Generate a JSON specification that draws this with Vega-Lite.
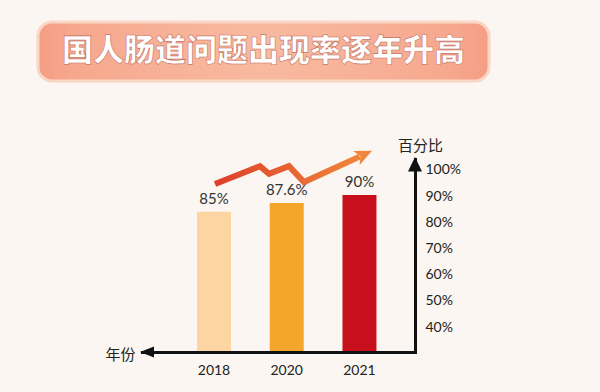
{
  "$schema": "https://vega.github.io/schema/vega-lite/v6.json",
  "background": "#FBF6F1",
  "padding": {"left": 36, "top": 20, "right": 115, "bottom": 17},
  "bounds": "flush",
  "spacing": 78,
  "config": {"view": {"stroke": null}, "font": "Lato"},
  "vconcat": [
    {
      "width": 451,
      "height": 59,
      "data": {"values": [{"title": "国人肠道问题出现率逐年升高"}]},
      "layer": [
        {
          "mark": {
            "type": "rect",
            "cornerRadius": 14,
            "stroke": "#FAD6C4",
            "strokeWidth": 3,
            "fill": {
              "gradient": "radial",
              "x1": 0.5, "y1": 0.5, "r1": 0,
              "x2": 0.5, "y2": 0.5, "r2": 0.6,
              "stops": [
                {"offset": 0, "color": "#F8BBA0"},
                {"offset": 0.7, "color": "#F6A88E"},
                {"offset": 1, "color": "#F2907A"}
              ]
            }
          },
          "encoding": {}
        },
        {
          "mark": {"type": "text", "font": "Noto Sans CJK SC", "fontSize": 31, "fontWeight": 900, "fill": "#FFFFFF", "stroke": "#C8705C", "strokeWidth": 0.6, "align": "center", "baseline": "middle"},
          "encoding": {"text": {"field": "title"}}
        }
      ]
    },
    {
      "width": 377,
      "height": 193,
      "resolve": {"scale": {"x": "independent", "y": "independent"}, "axis": {"x": "independent", "y": "independent"}},
      "layer": [
        {
          "data": {"values": [
            {"year": "2018", "value": 85},
            {"year": "2020", "value": 87.6},
            {"year": "2021", "value": 90}
          ]},
          "transform": [{"calculate": "datum.value + '%'", "as": "label"}],
          "encoding": {
            "x": {
              "field": "year", "type": "ordinal",
              "scale": {"range": [104, 377], "paddingInner": 0.533, "paddingOuter": 0.643, "align": 0.588},
              "axis": {
                "title": "年份", "titleX": 97, "titleY": 2, "titleAlign": "right", "titleBaseline": "middle",
                "titleFont": "Noto Sans CJK SC", "titleFontSize": 15, "titleFontWeight": "normal", "titleColor": "#222",
                "labelFont": "Lato", "labelFontSize": 14, "labelColor": "#222", "labelPadding": 11, "labelAngle": 0,
                "ticks": false, "tickSize": 0, "grid": false,
                "domainColor": "#111", "domainWidth": 3, "domainCap": "square", "zindex": 1
              }
            },
            "y": {"field": "value", "type": "quantitative", "scale": {"domain": [43.6, 100.6], "zero": false, "nice": false}, "axis": null}
          },
          "layer": [
            {
              "mark": {"type": "bar"},
              "encoding": {
                "y2": {"datum": 43.6},
                "color": {"field": "year", "type": "ordinal", "scale": {"domain": ["2018", "2020", "2021"], "range": ["#FDD5A2", "#F4A62A", "#C8101C"]}, "legend": null}
              }
            },
            {
              "mark": {"type": "text", "dy": -8, "baseline": "alphabetic", "fontSize": 15, "fill": "#333", "font": "Lato"},
              "encoding": {"text": {"field": "label"}}
            }
          ]
        },
        {
          "encoding": {
            "x": {"field": "p", "type": "quantitative", "scale": {"domain": [-2.4276, 2.7724], "zero": false, "nice": false}, "axis": null},
            "y": {"field": "v", "type": "quantitative", "scale": {"domain": [43.6, 100.6], "zero": false, "nice": false}, "axis": null}
          },
          "layer": [
            {
              "data": {"values": [
                {"p": 0.014, "v": 93.2},
                {"p": 0.634, "v": 98.5},
                {"p": 0.759, "v": 96.2},
                {"p": 1.034, "v": 98.5},
                {"p": 1.241, "v": 93.8},
                {"p": 2.008, "v": 101.3}
              ]},
              "mark": {
                "type": "line", "strokeWidth": 6, "strokeJoin": "miter", "strokeCap": "butt",
                "stroke": {"gradient": "linear", "x1": 0, "y1": 0, "x2": 1, "y2": 0,
                  "stops": [{"offset": 0, "color": "#DE3F2B"}, {"offset": 1, "color": "#F0863B"}]}
              }
            },
            {
              "data": {"values": [{"p": 2.179, "v": 103.0}]},
              "mark": {"type": "point", "shape": "M0,0L-2,-0.9L-1.5,0L-2,0.9Z", "angle": -24.5, "size": 289, "filled": true, "fill": "#F0863B", "opacity": 1, "strokeWidth": 0}
            }
          ]
        },
        {
          "encoding": {
            "x": {"type": "quantitative", "scale": {"domain": [-2.4276, 2.7724], "zero": false, "nice": false}, "axis": null},
            "y": {
              "type": "quantitative",
              "scale": {"domain": [30.45, 104.2], "zero": false, "nice": false},
              "axis": {
                "orient": "right", "values": [40, 50, 60, 70, 80, 90, 100], "labelExpr": "datum.value + '%'",
                "labelFont": "Lato", "labelFontSize": 14, "labelColor": "#222", "labelAlign": "left", "labelBaseline": "middle",
                "labelPadding": 10, "labelFlush": false, "labelOverlap": false,
                "ticks": false, "tickSize": 0, "grid": false,
                "domainColor": "#111", "domainWidth": 3, "domainCap": "square", "zindex": 1,
                "title": "百分比", "titleAngle": 0, "titleX": 5, "titleY": -14, "titleAlign": "center", "titleBaseline": "middle",
                "titleFont": "Noto Sans CJK SC", "titleFontSize": 15, "titleFontWeight": "normal", "titleColor": "#222"
              }
            }
          },
          "layer": [
            {
              "data": {"values": [{"axis": "百分比"}]},
              "mark": {"type": "point", "shape": "M0,0L1,2.1L-1,2.1Z", "size": 196, "filled": true, "fill": "#111", "opacity": 1, "strokeWidth": 0},
              "encoding": {
                "x": {"datum": 2.7724, "type": "quantitative"},
                "y": {"datum": 105, "type": "quantitative"}
              }
            },
            {
              "data": {"values": [{"axis": "年份"}]},
              "mark": {"type": "point", "shape": "M0,0L2,-0.8L2,0.8Z", "size": 196, "filled": true, "fill": "#111", "opacity": 1, "strokeWidth": 0},
              "encoding": {
                "x": {"datum": -1.0207, "type": "quantitative"},
                "y": {"datum": 30.45, "type": "quantitative"}
              }
            }
          ]
        }
      ]
    }
  ]
}
